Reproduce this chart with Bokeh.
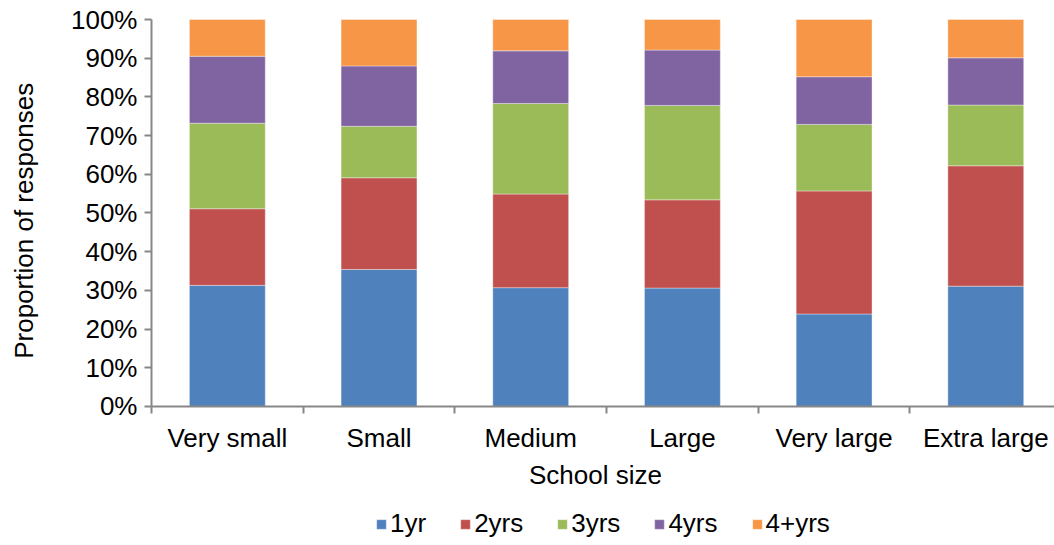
import math
from bokeh.plotting import figure
from bokeh.models import (ColumnDataSource, Range1d, FixedTicker, Legend, LegendItem,
                          NumeralTickFormatter, LinearAxis, Label)
from bokeh.embed import file_html
from bokeh.resources import INLINE

categories = ["Very small", "Small", "Medium", "Large", "Very large", "Extra large"]
series = ["1yr", "2yrs", "3yrs", "4yrs", "4+yrs"]
y1 = [31.3, 35.4, 30.7, 30.6, 23.9, 31.1]
y2 = [19.8, 23.7, 24.2, 22.8, 31.8, 31.1]
y3 = [22.1, 13.3, 23.4, 24.4, 17.2, 15.7]
y4 = [17.3, 15.6, 13.6, 14.3, 12.3, 12.2]
y5 = [9.5, 12.0, 8.1, 7.9, 14.8, 9.9]
colors = ["#4F81BD", "#C0504D", "#9BBB59", "#8064A2", "#F79646"]
y_title = "Proportion of responses"
x_title = "School size"

xs = [i + 0.5 for i in range(len(categories))]
data = {"x": xs}
for name, vals in zip(series, [y1, y2, y3, y4, y5]):
    data[name] = [v / 100 for v in vals]
src = ColumnDataSource(data)

FONT = "Liberation Sans"
FS = "26px"
X_END = 5.953
p = figure(width=1054, height=545, output_backend="svg", toolbar_location=None,
           x_range=Range1d(-0.9954, X_END), y_range=Range1d(-0.3592, 1.0491),
           x_axis_location=None, y_axis_location=None,
           min_border_top=0, min_border_right=0, min_border_left=0, min_border_bottom=0)
p.outline_line_color = None
p.xgrid.visible = False
p.ygrid.visible = False

rs = p.vbar_stack(series, x="x", width=0.5, source=src, color=colors,
                  line_color="white", line_width=0.6, line_alpha=0.6)

xaxis = LinearAxis(fixed_location=0)
p.add_layout(xaxis, "below")
yaxis = LinearAxis(fixed_location=0)
p.add_layout(yaxis, "left")

# y axis
yaxis.ticker = FixedTicker(ticks=[i / 10 for i in range(11)])
yaxis.formatter = NumeralTickFormatter(format="0%")
yaxis.bounds = (0, 1)
# x axis
xaxis.ticker = FixedTicker(ticks=xs, minor_ticks=list(range(len(categories) + 1)))
xaxis.major_label_overrides = {x: c for x, c in zip(xs, categories)}
xaxis.major_tick_line_color = None
xaxis.minor_tick_in = 0
xaxis.minor_tick_out = 7
xaxis.bounds = (0, X_END)

for ax in [xaxis, yaxis]:
    ax.axis_line_color = "#878787"
    ax.axis_line_width = 2
    ax.major_label_text_font = FONT
    ax.major_label_text_font_size = FS
    ax.major_label_text_color = "black"
    ax.minor_tick_line_color = "#878787"
    ax.minor_tick_line_width = 2

yaxis.major_tick_line_color = "#878787"
yaxis.major_tick_line_width = 2
yaxis.major_tick_in = 0
yaxis.major_tick_out = 7
yaxis.minor_tick_line_color = None
yaxis.major_label_standoff = 7
xaxis.major_label_standoff = 10

ylab = Label(x=23, y=0.48, x_units="screen", y_units="data", text=y_title,
             angle=math.pi / 2, text_align="center", text_baseline="middle",
             text_font=FONT, text_font_size=FS, text_color="black")
xlab = Label(x=595, y=-0.178, x_units="screen", y_units="data", text=x_title,
             text_align="center", text_baseline="middle",
             text_font=FONT, text_font_size=FS, text_color="black")
p.add_layout(ylab)
p.add_layout(xlab)

legend = Legend(items=[LegendItem(label=s, renderers=[r]) for s, r in zip(series, rs)],
                orientation="horizontal", location=(375, 6))
legend.label_text_font = FONT
legend.label_text_font_size = FS
legend.label_text_color = "black"
legend.glyph_width = 12
legend.glyph_height = 12
legend.label_standoff = 3
legend.spacing = 33
legend.border_line_color = None
legend.background_fill_alpha = 0
legend.padding = 4
legend.margin = 0
p.add_layout(legend, "center")

open("out.html", "w").write(file_html(p, INLINE))
